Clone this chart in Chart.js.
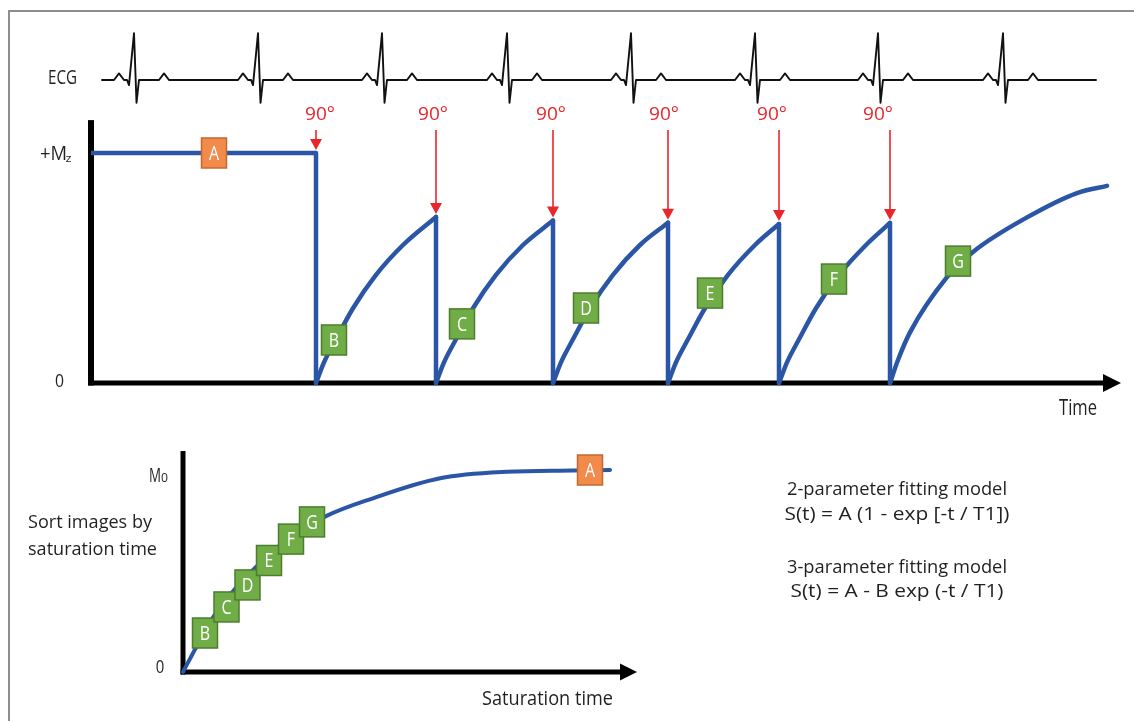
<!DOCTYPE html>
<html>
<head>
<meta charset="utf-8">
<script src="https://cdn.jsdelivr.net/npm/chart.js@4.4.1/dist/chart.umd.min.js"></script>
<style>
  html, body { margin: 0; padding: 0; background: #fff; }
  #wrap { position: relative; width: 1134px; height: 721px; overflow: hidden; background: #fff; }
  #wrap canvas { position: absolute; left: 0; top: 0; }
  #frame { position: absolute; left: 8px; top: 10px; width: 1140px; height: 720px;
           border-left: 2px solid #8e8e8e; border-top: 2px solid #8e8e8e; }
</style>
</head>
<body>
<div id="wrap">
  <div id="frame"></div>
  <canvas id="ecgChart" width="1134" height="721"></canvas>
  <canvas id="mzChart" width="1134" height="721"></canvas>
  <canvas id="satChart" width="1134" height="721"></canvas>
</div>
<script>
// --- Data ---
// time runs in the same arbitrary units for the ECG strip and the Mz trace

// ECG strip: R wave times, and one beat as offsets from R with amplitude (R = 1)
const ecgRPeaks = [43, 167, 291, 416, 540, 664, 787, 912];
const ecgSpan = [11, 1005];
const beatOffsets = [-20, -15, -10, -7, -5, 0, 2.5, 5, 25, 30, 35];
const beatAmplitude = [0, 0.14, 0, 0, -0.11, 1, -0.49, 0, 0, 0.14, 0];

// 90 degree saturation pulses
const pulseTimes = [225, 345, 462, 577, 688, 799];
const pulseLabelTimes = [229, 342, 460, 573, 681, 787];
const pulseLabel = "90°";

// longitudinal magnetisation (+Mz = 1)
const restTimes = [0, 225];
const restMz = [1, 1];
const recoveryTimes = [
  [225, 233, 245, 262, 285, 312, 345],
  [345, 353, 365, 382, 405, 432, 462],
  [462, 470, 482, 499, 522, 549, 577],
  [577, 585, 597, 614, 637, 664, 688],
  [688, 696, 708, 725, 748, 775, 799],
  [799, 807, 819, 856, 882, 936, 986, 1016],
];
const recoveryMz = [
  [0, 0.09, 0.19, 0.325, 0.47, 0.6, 0.722],
  [0, 0.09, 0.19, 0.325, 0.47, 0.6, 0.706],
  [0, 0.09, 0.19, 0.325, 0.47, 0.6, 0.697],
  [0, 0.09, 0.19, 0.325, 0.47, 0.6, 0.691],
  [0, 0.09, 0.19, 0.325, 0.47, 0.6, 0.696],
  [0, 0.1, 0.22, 0.46, 0.57, 0.72, 0.826, 0.857],
];

// image tags on the Mz trace
const topBoxLabels = ["A", "B", "C", "D", "E", "F", "G"];
const topBoxTimes = [123, 243, 371, 495, 619, 743, 867];
const topBoxMz = [1.0, 0.187, 0.257, 0.326, 0.391, 0.452, 0.53];

// images sorted by saturation time (M0 = 1)
const satCurveTime = [0, 14, 30, 50, 72, 100, 142, 190, 257, 324, 390, 427];
const satCurveSignal = [0, 0.13, 0.27, 0.4, 0.515, 0.64, 0.769, 0.86, 0.959, 0.991, 0.997, 1.0];
const satBoxLabels = ["B", "C", "D", "E", "F", "G", "A"];
const satBoxTimes = [22, 43.5, 64.5, 86, 108, 129, 407];
const satBoxSignal = [0.193, 0.322, 0.431, 0.552, 0.658, 0.743, 1.0];

const modelLines = [
  "2-parameter fitting model",
  "S(t) = A (1 - exp [-t / T1])",
  "3-parameter fitting model",
  "S(t) = A - B exp (-t / T1)",
];

// axis extents (data units)
const timeAxisTip = 1030;
const mzAxisTop = 1.143;
const arrowTopMz = 1.1;
const satAxisTip = 454;
const signalAxisTop = 1.094;

// --- Styles ---
const blue = "#2b56a6";
const red = "#e8262c";
const ink = "#231f20";
const greenFill = "#70ad47";
const greenEdge = "#4e7d2e";
const orangeFill = "#f28a4c";
const orangeEdge = "#c4682f";
const FONT = '"Open Sans", "Noto Sans", sans-serif';

// text helper: squeezes the text to the wanted width (the figure uses a condensed face)
function drawText(ctx, text, x, y, size, opts = {}) {
  ctx.save();
  ctx.font = `${size}px ${FONT}`;
  const natural = ctx.measureText(text).width;
  const sx = opts.width ? opts.width / natural : opts.squeeze || 0.9;
  ctx.translate(x, y);
  ctx.scale(sx, 1);
  ctx.textAlign = opts.align || "left";
  ctx.textBaseline = "alphabetic";
  ctx.fillStyle = opts.color || ink;
  ctx.fillText(text, 0, 0);
  ctx.restore();
}

function drawBox(ctx, cx, cy, letter) {
  const w = 25, h = 30;
  const orange = letter === "A";
  ctx.save();
  ctx.fillStyle = orange ? orangeFill : greenFill;
  ctx.fillRect(cx - w / 2, cy - h / 2, w, h);
  ctx.strokeStyle = orange ? orangeEdge : greenEdge;
  ctx.lineWidth = 1.5;
  ctx.strokeRect(cx - w / 2, cy - h / 2, w, h);
  ctx.restore();
  drawText(ctx, letter, cx, cy + 7, 19.5, { align: "center", color: "#fff", squeeze: 0.82 });
}

function drawArrowAxes(ctx, x0, y0, yTop, xTip, vWidth, hWidth, headLen, headHalf) {
  ctx.save();
  ctx.fillStyle = "#000";
  ctx.fillRect(x0 - vWidth / 2, yTop, vWidth, y0 + hWidth / 2 - yTop);
  ctx.fillRect(x0 - vWidth / 2, y0 - hWidth / 2, xTip - headLen + 1 - (x0 - vWidth / 2), hWidth);
  ctx.beginPath();
  ctx.moveTo(xTip - headLen, y0 - headHalf);
  ctx.lineTo(xTip, y0);
  ctx.lineTo(xTip - headLen, y0 + headHalf);
  ctx.closePath();
  ctx.fill();
  ctx.restore();
}

const baseOptions = (padding, xRange, yRange) => ({
  responsive: false,
  animation: false,
  events: [],
  layout: { padding: padding },
  scales: {
    x: { type: "linear", min: xRange[0], max: xRange[1], display: false },
    y: { type: "linear", min: yRange[0], max: yRange[1], display: false },
  },
  plugins: { legend: { display: false }, tooltip: { enabled: false } },
  elements: { point: { radius: 0 } },
});

const lineStyle = (width, color) => ({
  borderColor: color,
  borderWidth: width,
  fill: false,
  clip: false,
  pointRadius: 0,
  borderCapStyle: "round",
  borderJoinStyle: "round",
});

// --- ECG strip ---
const ecgPoints = [{ x: ecgSpan[0], y: 0 }];
ecgRPeaks.forEach((r) => {
  beatOffsets.forEach((o, i) => ecgPoints.push({ x: r + o, y: beatAmplitude[i] }));
});
ecgPoints.push({ x: ecgSpan[1], y: 0 });

const ecgDecor = {
  id: "ecgDecor",
  afterDraw(chart) {
    drawText(chart.ctx, "ECG", 48, 84, 20.5, { width: 29 });
  },
};

new Chart(document.getElementById("ecgChart"), {
  type: "line",
  data: {
    datasets: [{ data: ecgPoints, tension: 0, ...lineStyle(1.9, "#111") }],
  },
  options: baseOptions({ left: 91, right: 23, top: 33.3, bottom: 617.7 }, [0, 1020], [-0.5, 1]),
  plugins: [ecgDecor],
});

// --- Mz trace ---
const peakBeforePulse = pulseTimes.map((t, i) =>
  i === 0 ? restMz[restMz.length - 1] : recoveryMz[i - 1][recoveryMz[i - 1].length - 1]
);

const mzDatasets = [];
mzDatasets.push({
  data: restTimes.map((t, i) => ({ x: t, y: restMz[i] })),
  tension: 0,
  ...lineStyle(4.5, blue),
  borderCapStyle: "butt",
});
pulseTimes.forEach((t, i) => {
  mzDatasets.push({
    data: [{ x: t, y: peakBeforePulse[i] }, { x: t, y: 0 }],
    tension: 0,
    ...lineStyle(4.5, blue),
  });
});
recoveryTimes.forEach((times, s) => {
  mzDatasets.push({
    data: times.map((t, i) => ({ x: t, y: recoveryMz[s][i] })),
    cubicInterpolationMode: "monotone",
    ...lineStyle(4.5, blue),
  });
});

const mzDecor = {
  id: "mzDecor",
  beforeDatasetsDraw(chart) {
    const { ctx, scales: { x, y } } = chart;
    drawArrowAxes(ctx, x.getPixelForValue(0), y.getPixelForValue(0), y.getPixelForValue(mzAxisTop),
      x.getPixelForValue(timeAxisTip), 6, 5, 18, 9);
  },
  afterDatasetsDraw(chart) {
    const { ctx, scales: { x, y } } = chart;
    // 90 degree pulses
    pulseTimes.forEach((t, i) => {
      const px = x.getPixelForValue(t);
      const tip = y.getPixelForValue(peakBeforePulse[i]) - 3;
      const top = y.getPixelForValue(arrowTopMz);
      ctx.save();
      ctx.strokeStyle = red;
      ctx.lineWidth = 1.6;
      ctx.beginPath();
      ctx.moveTo(px, top);
      ctx.lineTo(px, tip - 9);
      ctx.stroke();
      ctx.fillStyle = red;
      ctx.beginPath();
      ctx.moveTo(px - 6, tip - 11);
      ctx.lineTo(px + 6, tip - 11);
      ctx.lineTo(px, tip);
      ctx.closePath();
      ctx.fill();
      ctx.restore();
      drawText(ctx, pulseLabel, x.getPixelForValue(pulseLabelTimes[i]), top - 10, 18.6,
        { align: "center", color: red, width: 30 });
    });
    // image tags
    topBoxLabels.forEach((l, i) => {
      drawBox(ctx, x.getPixelForValue(topBoxTimes[i]), y.getPixelForValue(topBoxMz[i]), l);
    });
    // axis labels
    const x0 = x.getPixelForValue(0);
    const yM = y.getPixelForValue(1);
    const y0 = y.getPixelForValue(0);
    drawText(ctx, "+M", x0 - 51, yM + 7, 19.5, { width: 27 });
    drawText(ctx, "z", x0 - 25.5, yM + 9, 11, { width: 6 });
    drawText(ctx, "0", x0 - 31.5, y0 + 4, 17.5, { align: "center", width: 9 });
    drawText(ctx, "Time", 1078, 415, 21, { align: "center", width: 38 });
  },
};

new Chart(document.getElementById("mzChart"), {
  type: "line",
  data: { datasets: mzDatasets },
  options: baseOptions({ left: 91, right: 23, top: 153, bottom: 338 }, [0, 1020], [0, 1]),
  plugins: [mzDecor],
});

// --- Sorted by saturation time ---
const satDecor = {
  id: "satDecor",
  beforeDatasetsDraw(chart) {
    const { ctx, scales: { x, y } } = chart;
    drawArrowAxes(ctx, x.getPixelForValue(0), y.getPixelForValue(0), y.getPixelForValue(signalAxisTop),
      x.getPixelForValue(satAxisTip), 5, 5, 17, 8.5);
  },
  afterDatasetsDraw(chart) {
    const { ctx, scales: { x, y } } = chart;
    satBoxLabels.forEach((l, i) => {
      drawBox(ctx, x.getPixelForValue(satBoxTimes[i]), y.getPixelForValue(satBoxSignal[i]), l);
    });
    const x0 = x.getPixelForValue(0);
    const yM = y.getPixelForValue(1);
    const y0 = y.getPixelForValue(0);
    drawText(ctx, "M", x0 - 34, yM + 11.7, 19.5, { width: 12 });
    drawText(ctx, "0", x0 - 22, yM + 11.7, 12, { width: 7 });
    drawText(ctx, "0", x0 - 23, y0 + 1, 17.5, { align: "center", width: 8.5 });
    drawText(ctx, "Saturation time", 482, 705, 20, { width: 131 });
    drawText(ctx, "Sort images by", 28, 528, 19, { width: 124 });
    drawText(ctx, "saturation time", 28, 555, 19, { width: 129 });
    const modelBaselines = [495, 520, 573, 597];
    const modelWidths = [220, 225, 220, 213];
    modelLines.forEach((line, i) => {
      drawText(ctx, line, 897, modelBaselines[i], 18.6, { align: "center", width: modelWidths[i] });
    });
  },
};

new Chart(document.getElementById("satChart"), {
  type: "line",
  data: {
    datasets: [{
      data: satCurveTime.map((t, i) => ({ x: t, y: satCurveSignal[i] })),
      cubicInterpolationMode: "monotone",
      ...lineStyle(4, blue),
    }],
  },
  options: baseOptions({ left: 183, right: 501, top: 470, bottom: 49 }, [0, 450], [0, 1]),
  plugins: [satDecor],
});
</script>
</body>
</html>
